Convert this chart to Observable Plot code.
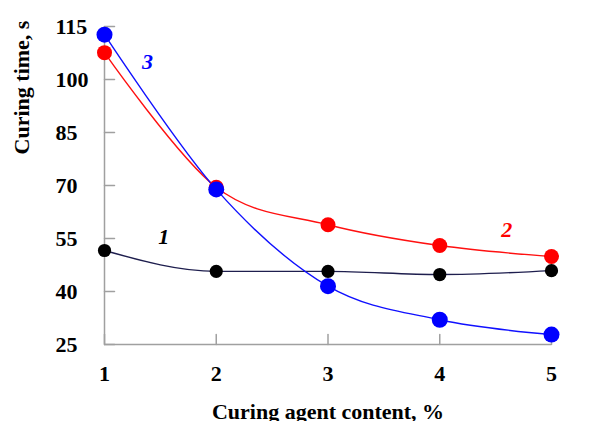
<!DOCTYPE html>
<html>
<head>
<meta charset="utf-8">
<script src="https://cdn.jsdelivr.net/npm/d3@7"></script>
<script src="https://cdn.jsdelivr.net/npm/@observablehq/plot@0.6"></script>
<style>
  html, body { margin: 0; padding: 0; background: #fff; }
  #chart svg { display: block; }
</style>
</head>
<body>
<div id="chart"></div>
<script>
const content = [1, 2, 3, 4, 5];
const series1 = [51.6, 45.7, 45.7, 44.8, 45.9];
const series2 = [107.6, 69.5, 58.9, 53.0, 49.9];
const series3 = [112.7, 68.9, 41.5, 32.0, 27.8];
const yTicks = [25, 40, 55, 70, 85, 100, 115];
const xTicks = [1, 2, 3, 4, 5];
const seriesNames = ["1", "2", "3"];
const seriesColors = ["#000000", "#ff0000", "#0000ff"];
const lineColors = ["#1e1e4e", "#ff1010", "#1010ff"];
const seriesCurves = ["monotone-x", "cardinal", "cardinal"];
const labelX = [1.53, 4.6, 1.385];
const labelY = [55.3, 57.3, 105.1];
const xTitle = "Curing agent content, %";
const yTitle = "Curing time, s";

const allSeries = [series1, series2, series3];
const rows = [];
allSeries.forEach((vals, i) => vals.forEach((v, j) => rows.push({s: seriesNames[i], x: content[j], y: v})));
const labels = seriesNames.map((s, i) => ({s, x: labelX[i], y: labelY[i]}));

const font = "Liberation Serif, Times New Roman, serif";
const gray = "#a0a0a0";
const radius = {"1": 6.6, "2": 7.5, "3": 8};
const order = ["2", "1", "3"];
const tickShape = {draw(context, l) { context.moveTo(0, 0); context.lineTo(0, -l); }};

const marks = [
  Plot.ruleX([1], {stroke: gray, strokeWidth: 1.5}),
  Plot.ruleY([25], {stroke: gray, strokeWidth: 1.5}),
  Plot.vector(yTicks, {x: 1, y: d => d, length: 10, rotate: 90, anchor: "start", shape: tickShape, stroke: gray, strokeWidth: 1.5}),
  Plot.vector(xTicks, {x: d => d, y: 25, length: 10, rotate: 0, anchor: "start", shape: tickShape, stroke: gray, strokeWidth: 1.5}),
  Plot.text(yTicks, {x: 1, y: d => d, text: d => String(d), textAnchor: "start", lineAnchor: "middle", dx: -49, fontSize: 22, fontWeight: "bold", fontFamily: font, fill: "#000"}),
  Plot.axisX({ticks: xTicks, tickSize: 0, tickPadding: 21, tickFormat: d => String(d), label: null, fontSize: 22, fontWeight: "bold", fontFamily: font, fill: "#000"})
];
order.forEach(s => {
  const i = seriesNames.indexOf(s);
  marks.push(Plot.line(rows.filter(r => r.s === s), {x: "x", y: "y", stroke: lineColors[i], strokeWidth: 1.4, curve: seriesCurves[i], tension: 0}));
});
order.forEach(s => {
  const i = seriesNames.indexOf(s);
  marks.push(Plot.dot(rows.filter(r => r.s === s), {x: "x", y: "y", r: radius[s], fill: seriesColors[i], stroke: "none"}));
});
marks.push(Plot.text(labels, {x: "x", y: "y", text: "s", fill: d => seriesColors[seriesNames.indexOf(d.s)], fontSize: 22, fontWeight: "bold", fontStyle: "italic", fontFamily: font}));
marks.push(Plot.text([xTitle], {frameAnchor: "bottom", textAnchor: "middle", lineAnchor: "middle", dy: 67, fontSize: 22, fontWeight: "bold", fontFamily: font, fill: "#000"}));
marks.push(Plot.text([yTitle], {frameAnchor: "top-left", textAnchor: "middle", lineAnchor: "middle", dx: -83, dy: 61, rotate: -90, fontSize: 22, fontWeight: "bold", fontFamily: font, fill: "#000"}));

const chart = Plot.plot({
  width: 616,
  height: 421,
  marginLeft: 104,
  marginRight: 65,
  marginTop: 26,
  marginBottom: 77,
  x: {domain: [1, 5]},
  y: {domain: [25, 115], axis: null},
  style: {background: "#fff", overflow: "visible"},
  marks
});
document.getElementById("chart").appendChild(chart);
</script>
</body>
</html>
